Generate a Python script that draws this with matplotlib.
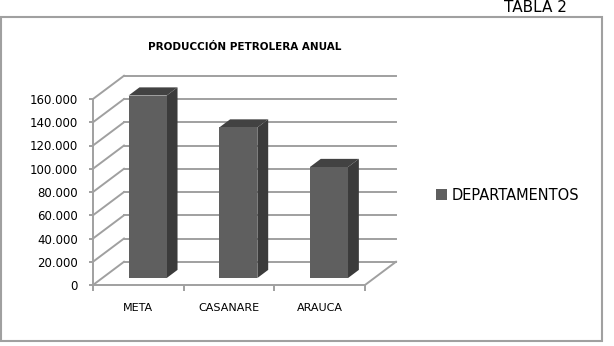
import matplotlib.pyplot as plt
from matplotlib.patches import Polygon, Rectangle, Patch

departamentos = ['META', 'CASANARE', 'ARAUCA']
produccion = [157000, 129500, 95500]
niveles = list(range(0, 160001, 20000))
etiquetas_y = ['{:,}'.format(v).replace(',', '.') for v in niveles]

gris = '#a0a0a0'
c_frente, c_lado, c_tope = '#5f5f5f', '#3b3b3b', '#424242'

# desplazamiento de profundidad (pared de fondo) en unidades de datos
DX, DY = 0.342, 20000


def proy(x, y, d):
    return (x + d * DX, y + d * DY)


fig = plt.figure(figsize=(6.14, 3.46), dpi=100)
W, H = 614, 346
ax = fig.add_axes([93 / W, (H - 285) / H, (365 - 93) / W, (285 - 99) / H])
ax.set_xlim(-0.5, 2.5)
ax.set_ylim(0, 160000)
ax.patch.set_visible(False)

# pared del fondo y pared izquierda
x_izq, x_der = -0.5, len(departamentos) - 0.5
for v in niveles:
    ax.plot(*zip(proy(x_izq, v, 1), proy(x_der, v, 1)), color=gris, lw=1.4, clip_on=False, zorder=1)
    ax.plot(*zip(proy(x_izq, v, 0), proy(x_izq, v, 1)), color=gris, lw=1.4, clip_on=False, zorder=1)
# borde derecho del piso
ax.plot(*zip(proy(x_der, 0, 0), proy(x_der, 0, 1)), color=gris, lw=1.4, clip_on=False, zorder=1)

# barras
d0, d1, ancho = 0.30, 0.65, 0.21
for i, v in enumerate(produccion):
    x0, x1 = i - ancho, i + ancho
    frente = [proy(x0, 0, d0), proy(x1, 0, d0), proy(x1, v, d0), proy(x0, v, d0)]
    lado = [proy(x1, 0, d0), proy(x1, 0, d1), proy(x1, v, d1), proy(x1, v, d0)]
    tope = [proy(x0, v, d0), proy(x1, v, d0), proy(x1, v, d1), proy(x0, v, d1)]
    ax.add_patch(Polygon(lado, closed=True, facecolor=c_lado, edgecolor='none', zorder=3, clip_on=False))
    ax.add_patch(Polygon(tope, closed=True, facecolor=c_tope, edgecolor='none', zorder=3, clip_on=False))
    ax.add_patch(Polygon(frente, closed=True, facecolor=c_frente, edgecolor='none', zorder=4, clip_on=False))

for s in ['top', 'right']:
    ax.spines[s].set_visible(False)
for s in ['left', 'bottom']:
    ax.spines[s].set_color(gris)
    ax.spines[s].set_linewidth(1.4)

ax.set_yticks(niveles)
ax.set_yticklabels(etiquetas_y, fontsize=8.5)
ax.tick_params(axis='y', colors=gris, labelcolor='black', length=3, width=1.4, pad=8)
ax.set_xticks([-0.5, 0.5, 1.5, 2.5])
ax.set_xticklabels([])
ax.tick_params(axis='x', colors=gris, length=4, width=1.4)
ax.set_xticks(range(len(departamentos)), minor=True)
ax.set_xticklabels(departamentos, minor=True, fontsize=8)
ax.tick_params(axis='x', which='minor', length=0, pad=13)

fig.text(245 / W, 1 - 47 / H, 'PRODUCCIÓN PETROLERA ANUAL', ha='center', va='center',
         fontsize=7.5, fontweight='bold')
fig.text(567 / W, 1 - 8 / H, 'TABLA 2', ha='right', va='center', fontsize=11)

fig.legend(handles=[Patch(facecolor=c_frente, label='DEPARTAMENTOS')], frameon=False,
           loc='center left', bbox_to_anchor=(436 / W, 1 - 195 / H), borderpad=0, borderaxespad=0,
           handlelength=0.75, handleheight=0.75, handletextpad=0.35, fontsize=10.5)

fig.add_artist(Rectangle((1.5 / W, 1 - 341 / H), 600 / W, 324 / H, transform=fig.transFigure,
                         fill=False, edgecolor=gris, lw=1.5))

fig.savefig('out.png', dpi=100)
